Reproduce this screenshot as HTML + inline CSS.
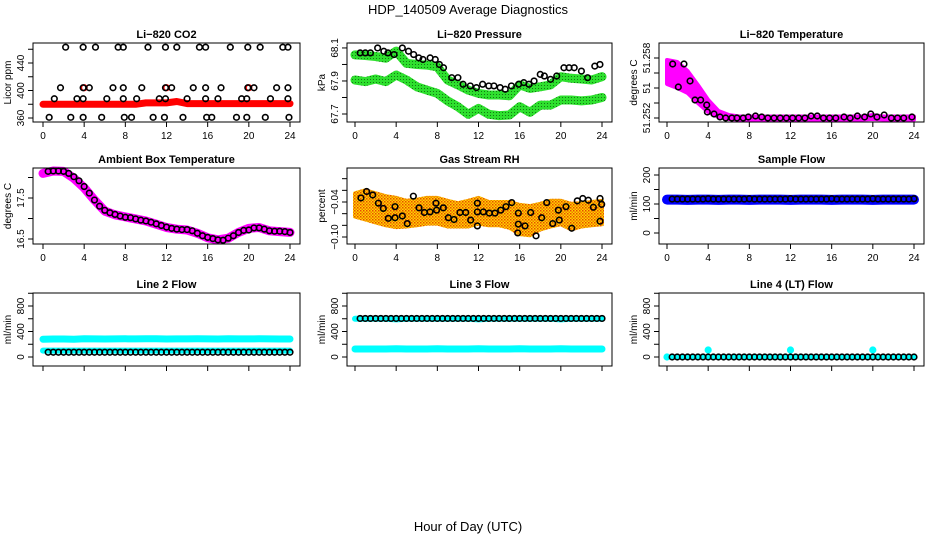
<!DOCTYPE html>
<html><head><meta charset="utf-8"><style>
html,body{margin:0;padding:0;background:#fff;}
svg{display:block;font-family:"Liberation Sans",sans-serif;}
</style></head><body>
<svg id="chart" width="936" height="540" viewBox="0 0 936 540" xmlns="http://www.w3.org/2000/svg">
<defs>
<pattern id="gdot" width="3" height="3" patternUnits="userSpaceOnUse"><rect width="3" height="3" fill="#2ee02e"/><rect x="1" y="1" width="1" height="1" fill="#137a13"/></pattern>
<pattern id="odot" width="3" height="3" patternUnits="userSpaceOnUse"><rect width="3" height="3" fill="#ffd400"/><rect x="0" y="0" width="1.5" height="1.5" fill="#e84a00"/><rect x="1.5" y="1.5" width="1.5" height="1.5" fill="#f07a00"/></pattern>
</defs>
<text x="468" y="14" text-anchor="middle" font-size="13">HDP_140509  Average Diagnostics</text>
<text x="468" y="531" text-anchor="middle" font-size="13">Hour of Day (UTC)</text>
</svg>
<script>
// ---------- data ----------
const hrs = [0,1,2,3,4,5,6,7,8,9,10,11,12,13,14,15,16,17,18,19,20,21,22,23,24];
const halfHrs = [0.5,1,1.5,2,2.5,3,3.5,4,4.5,5,5.5,6,6.5,7,7.5,8,8.5,9,9.5,10,10.5,11,11.5,12,12.5,13,13.5,14,14.5,15,15.5,16,16.5,17,17.5,18,18.5,19,19.5,20,20.5,21,21.5,22,22.5,23,23.5,24];
const xTicks = [0,4,8,12,16,20,24];

// CO2
const co2X = [2.2,3.9,5.1,7.3,7.8,10.2,11.9,13.0,15.2,15.8,18.2,19.9,21.1,23.3,23.8,
  1.7,3.9,4.5,6.8,7.8,9.6,11.9,12.5,14.6,15.8,17.3,19.9,20.5,22.7,23.8,
  1.1,3.3,3.9,6.2,7.8,9.1,11.3,11.9,14.0,15.8,17.0,19.3,19.8,22.1,23.8,
  0.6,2.7,3.9,5.7,7.9,8.6,10.7,11.8,13.6,15.9,16.4,18.8,19.8,21.6,23.9];
const co2Y = [463,463,463,463,463,463,463,463,463,463,463,463,463,463,463,
  404,404,404,404,404,404,404,404,404,404,404,404,404,404,404,
  388,388,388,388,388,388,388,388,388,388,388,388,388,388,388,
  361,361,361,361,361,361,361,361,361,361,361,361,361,361,361];
const co2Red = [380,380,380,380,380,380,380,380,380,380,382,382,382,384,381,381,381,381,381,381,381,381,381,381,381];
const co2RedX = [4,12,20];
const co2RedY = [404,404,404];

// Pressure
const presX = [0.5,1,1.5,2.2,2.8,3.2,3.8,4.6,5.2,5.7,6.2,6.6,7.3,7.8,8.2,8.6,9.4,10.0,10.5,11.2,11.8,12.4,13.0,13.5,14.1,14.6,15.2,15.9,16.4,16.9,17.4,18.0,18.4,19.0,19.6,20.3,20.8,21.3,22.0,22.6,23.3,23.8];
const presY = [68.07,68.07,68.07,68.10,68.08,68.07,68.06,68.10,68.08,68.06,68.04,68.03,68.04,68.03,68.00,67.98,67.92,67.92,67.88,67.87,67.86,67.88,67.87,67.87,67.86,67.85,67.87,67.88,67.89,67.88,67.90,67.94,67.93,67.91,67.93,67.98,67.98,67.98,67.96,67.92,67.99,68.00];
const presGreenHi = [68.058,68.054,68.048,68.038,68.081,68.007,68.0,67.996,67.986,67.906,67.876,67.845,67.825,67.815,67.815,67.81,67.876,67.855,67.865,67.876,67.926,67.916,67.912,67.906,67.926];
const presGreenLo = [67.906,67.896,67.912,67.896,67.936,67.906,67.865,67.845,67.825,67.779,67.744,67.698,67.734,67.698,67.69,67.694,67.744,67.71,67.754,67.754,67.785,67.785,67.779,67.785,67.80];

// Li-820 temperature
const tempX = [0.55,1.1,1.65,2.24,2.72,3.27,3.86,3.92,4.57,5.15,5.7,6.3,6.8,7.4,7.9,8.6,9.2,9.8,10.4,11.0,11.6,12.2,12.8,13.4,14.0,14.6,15.2,15.8,16.4,17.2,17.8,18.5,19.2,19.8,20.4,21.1,21.8,22.4,23.0,23.8];
const tempY = [51.2574,51.2551,51.2574,51.2557,51.2538,51.2538,51.2533,51.2526,51.2524,51.2521,51.2520,51.2520,51.2520,51.2520,51.2521,51.2522,51.2521,51.2520,51.2520,51.2520,51.2520,51.2520,51.2520,51.2520,51.2522,51.2522,51.2520,51.2520,51.2520,51.2521,51.2520,51.2522,51.2521,51.2524,51.2521,51.2523,51.2520,51.2520,51.2520,51.2521];
const tempMagMid = [51.2566,51.2563,51.2556,51.2544,51.2532,51.2524,51.2521,51.2520,51.2520,51.2520,51.2520,51.2520,51.2520,51.2520,51.2520,51.2520,51.2520,51.2520,51.2520,51.2520,51.2521,51.2520,51.2520,51.2520,51.2520];
const tempMagHalf = [0.0012,0.0013,0.0011,0.0009,0.0006,0.0003,0.0002,0.00015,0.00015,0.00015,0.00015,0.00015,0.00015,0.00015,0.00015,0.00015,0.00015,0.00015,0.00015,0.00015,0.0002,0.00015,0.00015,0.00015,0.00015];

// Ambient box temperature
const ambMag = [18.10,18.16,18.15,17.98,17.75,17.45,17.18,17.09,17.04,16.99,16.94,16.86,16.78,16.74,16.72,16.64,16.53,16.48,16.52,16.66,16.76,16.78,16.70,16.68,16.66];
const ambBlack = [18.15,18.16,18.16,18.15,18.10,18.02,17.92,17.78,17.62,17.45,17.30,17.20,17.14,17.10,17.06,17.03,17.02,16.99,16.96,16.94,16.91,16.87,16.83,16.79,16.76,16.74,16.73,16.73,16.70,16.64,16.58,16.54,16.51,16.48,16.47,16.52,16.58,16.66,16.71,16.72,16.77,16.77,16.74,16.70,16.69,16.69,16.68,16.66];

// Gas stream RH
const rhX = [0.58,1.13,1.72,2.27,2.75,3.24,3.89,3.89,4.6,5.08,5.67,6.22,6.74,7.29,7.87,7.93,8.58,9.07,9.62,10.2,10.76,11.24,11.89,11.89,11.89,12.47,13.05,13.6,14.16,14.67,15.23,15.87,15.87,15.81,16.52,17.07,17.59,18.14,18.63,19.21,19.76,19.85,20.5,21.06,21.6,22.13,22.67,23.16,23.81,23.81,23.97];
const rhY = [-0.033,-0.022,-0.028,-0.042,-0.051,-0.068,-0.048,-0.067,-0.064,-0.077,-0.030,-0.050,-0.058,-0.057,-0.042,-0.054,-0.050,-0.067,-0.070,-0.058,-0.058,-0.071,-0.042,-0.057,-0.081,-0.057,-0.059,-0.059,-0.054,-0.048,-0.041,-0.059,-0.078,-0.093,-0.081,-0.058,-0.098,-0.067,-0.041,-0.077,-0.054,-0.071,-0.048,-0.085,-0.038,-0.034,-0.037,-0.049,-0.034,-0.073,-0.044];
const rhMid = [-0.045,-0.045,-0.05,-0.055,-0.058,-0.06,-0.058,-0.055,-0.055,-0.06,-0.062,-0.06,-0.055,-0.06,-0.06,-0.062,-0.07,-0.072,-0.065,-0.06,-0.058,-0.065,-0.062,-0.06,-0.058];
const rhHalf = [0.02,0.025,0.025,0.025,0.025,0.022,0.022,0.022,0.022,0.022,0.02,0.022,0.022,0.02,0.02,0.022,0.025,0.025,0.022,0.022,0.02,0.022,0.02,0.02,0.02];

// Sample flow
const sfBlue = [115,115,114,115,115,114,115,115,114,115,115,115,114,115,115,115,114,115,115,115,114,115,115,115,115];
const sfBlack = [117,117,117,117,117,117,117,118,117,117,117,117,117,117,117,118,117,117,117,117,117,117,117,118,117,117,117,117,117,117,117,118,117,117,117,117,117,117,117,118,117,117,117,117,117,117,117,118];

// Line flows
const l2Hi = [280,282,282,280,285,284,283,284,286,284,285,285,283,284,284,285,284,283,285,284,284,285,284,283,283];
const l2Lo = [100,100,100,100,100,100,100,100,100,100,100,100,100,100,100,100,100,100,100,100,100,100,100,100,100];
const l2Black = [75,75,75,75,75,75,75,75,75,75,75,75,75,75,75,75,75,75,75,75,75,75,75,75,75,75,75,75,75,75,75,75,75,75,75,75,75,75,75,75,75,75,75,75,75,75,75,75];
const l3Cyan = [600,600,600,600,590,600,600,600,600,600,600,600,590,600,600,600,600,600,600,600,590,600,600,600,600];
const l3Lo = [125,125,125,125,130,125,125,125,130,125,125,125,130,125,125,125,130,125,125,125,130,125,125,125,125];
const l3Black = [605,605,605,605,605,605,605,605,605,605,605,605,605,605,605,605,605,605,605,605,605,605,605,605,605,605,605,605,605,605,605,605,605,605,605,605,605,605,605,605,605,605,605,605,605,605,605,605];
const l4Black = [0,0,0,0,0,0,0,0,0,0,0,0,0,0,0,0,0,0,0,0,0,0,0,0,0,0,0,0,0,0,0,0,0,0,0,0,0,0,0,0,0,0,0,0,0,0,0,0];
const l4Cyan = [0,0,0,0,0,0,0,0,0,0,0,0,0,0,0,0,0,0,0,0,0,0,0,0,0];
const l4OutX = [4,12,20];
const l4OutY = [110,110,110];

// ---------- drawing ----------
const NS = 'http://www.w3.org/2000/svg';
const svg = document.getElementById('chart');
function mk(tag, attrs, parent) {
  const e = document.createElementNS(NS, tag);
  for (const k in attrs) e.setAttribute(k, attrs[k]);
  (parent || svg).appendChild(e);
  return e;
}
const cols = [{l:33,r:300,x0:43,x1:290},{l:347,r:612,x0:355,x1:602},{l:659,r:924,x0:667,x1:914}];
const rows = [{t:43,b:122},{t:168,b:244},{t:293,b:366}];

function panel(name, title, ylab, ci, ri, dom, yTicks, yLabels, showX) {
  const c = cols[ci], r = rows[ri];
  const g = mk('g', {});
  
  
  const sx = h => c.x0 + (h / 24) * (c.x1 - c.x0);
  const sy = v => r.b - (v - dom[0]) / (dom[1] - dom[0]) * (r.b - r.t);
  const marks = mk('g', {}, g);
  
  
  const t = mk('text', {x:(c.l+c.r)/2, y:r.t-5, 'text-anchor':'middle', 'font-size':'11', 'font-weight':'bold'}, g);
  t.textContent = title;
  
  
  const yl = mk('text', {transform:`translate(${c.l-22},${(r.t+r.b)/2}) rotate(-90)`, 'text-anchor':'middle', 'font-size':'10'}, g);
  yl.textContent = ylab;
  
  
  yTicks.forEach((v, i) => {
    const y = sy(v);
    mk('line', {x1:c.l-5, x2:c.l, y1:y, y2:y, stroke:'#000', 'stroke-width':1}, g);
    if (yLabels[i]) {
      const tl = mk('text', {transform:`translate(${c.l-9},${y}) rotate(-90)`, 'text-anchor':'middle', 'font-size':'10'}, g);
      tl.textContent = yLabels[i];
      
      
    }
  });
  xTicks.forEach(h => {
    const x = sx(h);
    mk('line', {x1:x, x2:x, y1:r.b, y2:r.b+5, stroke:'#000', 'stroke-width':1}, g);
    if (showX) {
      const tl = mk('text', {x:x, y:r.b+17, 'text-anchor':'middle', 'font-size':'10'}, g);
      tl.textContent = String(h);
      
      
    }
  });
  const box = mk('rect', {x:c.l, y:r.t, width:c.r-c.l, height:r.b-r.t, fill:'none', stroke:'#000', 'stroke-width':1}, g);
  
  
  return {sx, sy, g: marks};
}
function band(p, xs, ys, color, w, name) {
  const pts = xs.map((h, i) => p.sx(h).toFixed(1) + ',' + p.sy(ys[i]).toFixed(1)).join(' ');
  const e = mk('polyline', {points:pts, fill:'none', stroke:color, 'stroke-width':w, 'stroke-linejoin':'round', 'stroke-linecap':'round'}, p.g);
  
  
}
function area(p, xs, mid, half, fill, name) {
  const up = xs.map((h, i) => p.sx(h).toFixed(1) + ',' + p.sy(mid[i] + half[i]).toFixed(1));
  const dn = xs.map((h, i) => p.sx(h).toFixed(1) + ',' + p.sy(mid[i] - half[i]).toFixed(1)).reverse();
  const e = mk('polygon', {points: up.concat(dn).join(' '), fill: fill, stroke: fill, 'stroke-width': 4, 'stroke-linejoin':'round'}, p.g);
  
  
}
function pts(p, xs, ys, color, name, fill) {
  xs.forEach((h, i) => {
    const e = mk('circle', {cx:p.sx(h), cy:p.sy(ys[i]), r:2.8, fill: fill || 'none', stroke:color, 'stroke-width':1.6}, p.g);
    
    
  });
}

let p = panel('co2', 'Li\u2212820 CO2', 'Licor ppm', 0, 0, [354.2, 469.1], [360,380,400,420,440,460], ['360','','400','','440',''], true);
band(p, hrs, co2Red, '#ff0000', 7, 'co2-red-series');
pts(p, co2RedX, co2RedY, '#ff0000', 'co2-red-point');
pts(p, co2X, co2Y, '#000', 'co2-point');

p = panel('pressure', 'Li\u2212820 Pressure', 'kPa', 1, 0, [67.6515, 68.130], [67.7,67.8,67.9,68.0,68.1], ['67.7','','67.9','','68.1'], true);
band(p, hrs, presGreenHi, 'url(#gdot)', 9, 'pressure-green-upper');
band(p, hrs, presGreenLo, 'url(#gdot)', 9, 'pressure-green-lower');
pts(p, presX, presY, '#000', 'pressure-point');

p = panel('li820-temp', 'Li\u2212820 Temperature', 'degrees C', 2, 0, [51.2516, 51.2595], [51.252,51.2535,51.255,51.2565,51.258], ['51.252','','51','','51.258'], true);
area(p, hrs, tempMagMid, tempMagHalf, '#ff00ff', 'li820-temp-magenta');
pts(p, tempX, tempY, '#000', 'li820-temp-point');

p = panel('ambient', 'Ambient Box Temperature', 'degrees C', 0, 1, [16.378, 18.232], [16.5,17,17.5,18], ['16.5','','17.5',''], true);
band(p, hrs, ambMag, '#ff00ff', 9, 'ambient-magenta');
pts(p, halfHrs, ambBlack, '#000', 'ambient-point');

p = panel('rh', 'Gas Stream RH', 'percent', 1, 1, [-0.112, 0.0183], [-0.10,-0.08,-0.06,-0.04,-0.02,0.00], ['\u22120.10','','','\u22120.04','',''], true);
area(p, hrs, rhMid, rhHalf, 'url(#odot)', 'rh-orange-cloud');
pts(p, rhX, rhY, '#000', 'rh-point');

p = panel('sample-flow', 'Sample Flow', 'ml/min', 2, 1, [-37.9, 224.1], [0,50,100,150,200], ['0','','100','','200'], true);
band(p, hrs, sfBlue, '#0000ff', 10, 'sample-flow-blue');
pts(p, halfHrs, sfBlack, '#000', 'sample-flow-point');

p = panel('line2', 'Line 2 Flow', 'ml/min', 0, 2, [-141, 1004], [0,200,400,600,800,1000], ['0','','400','','800',''], false);
band(p, hrs, l2Hi, '#00ffff', 7, 'line2-cyan-upper');
band(p, hrs, l2Lo, '#00ffff', 6, 'line2-cyan-lower');
pts(p, halfHrs, l2Black, '#000', 'line2-point');

p = panel('line3', 'Line 3 Flow', 'ml/min', 1, 2, [-141, 1004], [0,200,400,600,800,1000], ['0','','400','','800',''], false);
band(p, hrs, l3Cyan, '#00ffff', 6, 'line3-cyan-upper');
band(p, hrs, l3Lo, '#00ffff', 7, 'line3-cyan-lower');
pts(p, halfHrs, l3Black, '#000', 'line3-point');

p = panel('line4', 'Line 4 (LT) Flow', 'ml/min', 2, 2, [-141, 1004], [0,200,400,600,800,1000], ['0','','400','','800',''], false);
band(p, hrs, l4Cyan, '#00ffff', 5, 'line4-cyan');
pts(p, l4OutX, l4OutY, '#00ffff', 'line4-cyan-outlier', '#00ffff');
pts(p, [0], [0], '#00ffff', 'line4-cyan-start', '#00ffff');
pts(p, halfHrs, l4Black, '#000', 'line4-point');
</script>
</body></html>
